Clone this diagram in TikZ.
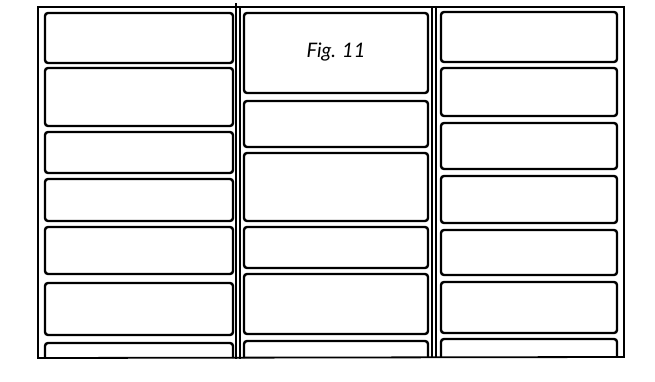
\documentclass[tikz,border=0pt]{standalone}
\usepackage{fontspec}
\newfontfamily\figfont{Lato}
\begin{document}
\begin{tikzpicture}[x=1pt,y=-1pt,
                    frame line/.style={line width=1.8pt,line cap=rect},
                    drawer/.style={line width=2.4pt,rounded corners=3pt},
                    caption/.style={font=\figfont\itshape\fontsize{20}{24}\selectfont}]

  \useasboundingbox (0,0) rectangle (655,382);

  % Define cabinet frame
  \draw[frame line] (38,7) -- (624,7);
  \draw[frame line] (38,358) -- (624,357);
  \draw[frame line] (38,7) -- (38,358);
  \draw[frame line] (624,7) -- (624,357);
  \draw[frame line] (236,4) -- (236,358);
  \draw[frame line] (240,7) -- (240,358);
  \draw[frame line] (432,7) -- (432,357);
  \draw[frame line] (436,7) -- (436,357);

  % Left column drawers
  \foreach \top/\bottom in {13/63, 68/126, 132/173, 179/221, 227/274, 283/335}
    \draw[drawer] (45,\top) rectangle (233,\bottom);
  \draw[drawer] (45,358) -- (45,343) -- (233,343) -- (233,358);

  % Middle column drawers
  \foreach \top/\bottom in {13/93, 101/147, 153/221, 227/268, 274/334}
    \draw[drawer] (244,\top) rectangle (428,\bottom);
  \draw[drawer] (244,358) -- (244,341) -- (428,341) -- (428,357);

  % Right column drawers
  \foreach \top/\bottom in {12/62, 68/116, 123/169, 176/223, 230/275, 282/333}
    \draw[drawer] (441,\top) rectangle (617,\bottom);
  \draw[drawer] (441,357) -- (441,339) -- (617,339) -- (617,357);

  % Label
  \node[caption] (fig) at (336,52) {Fig. 11};

\end{tikzpicture}
\end{document}
